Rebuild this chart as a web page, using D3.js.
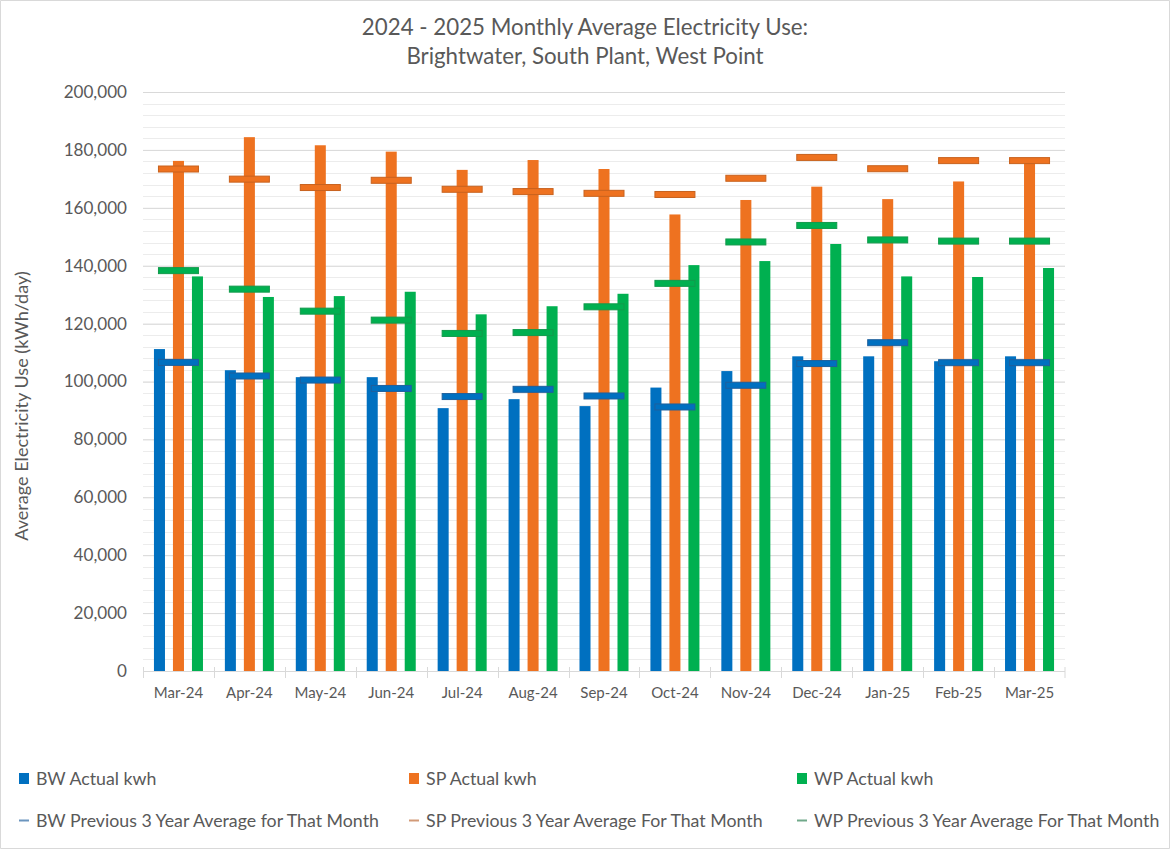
<!DOCTYPE html>
<html>
<head>
<meta charset="utf-8">
<script src="https://cdn.jsdelivr.net/npm/d3@7"></script>
<style>
  body { margin: 0; background: #fff; }
  svg { display: block; }
  svg text { font-family: Lato, "Open Sans", sans-serif; fill: #595959; }
</style>
</head>
<body>
<div id="chart"></div>
<script>
// months on the x axis
const months = ['Mar-24', 'Apr-24', 'May-24', 'Jun-24', 'Jul-24', 'Aug-24', 'Sep-24',
  'Oct-24', 'Nov-24', 'Dec-24', 'Jan-25', 'Feb-25', 'Mar-25'];

// actual kwh per day (bars)
const bwActual = [111200, 103900, 101500, 101500, 90800, 93900, 91500, 97900, 103600, 108700, 108700, 107000, 108700];
const spActual = [176200, 184400, 181600, 179400, 173100, 176500, 173400, 157700, 162700, 167300, 163000, 169100, 175500];
const wpActual = [136300, 129200, 129500, 131000, 123200, 126000, 130300, 140200, 141600, 147500, 136300, 136100, 139200];

// previous 3 year average for that month (dash markers)
const bwAvg = [106600, 101900, 100500, 97600, 94800, 97300, 95000, 91200, 98700, 106200, 113400, 106500, 106500];
const spAvg = [173400, 169900, 167000, 169500, 166400, 165600, 165000, 164600, 170200, 177400, 173500, 176300, 176300];
const wpAvg = [138300, 131900, 124300, 121200, 116600, 116900, 125800, 133900, 148200, 153900, 148900, 148500, 148500];

const yTicks = [0, 20000, 40000, 60000, 80000, 100000, 120000, 140000, 160000, 180000, 200000];

const titleLines = ['2024 - 2025 Monthly Average Electricity Use:', 'Brightwater, South Plant, West Point'];
const yAxisLabel = 'Average Electricity Use (kWh/day)';

const series = [
  { key: 'BW', actual: bwActual, avg: bwAvg, color: '#0070C0', edge: '#1f5f9c', legendLine: '#6b95be',
    name: 'BW Actual kwh', avgName: 'BW Previous 3 Year Average for That Month' },
  { key: 'SP', actual: spActual, avg: spAvg, color: '#EE7220', edge: '#c8621e', legendLine: '#d29a78',
    name: 'SP Actual kwh', avgName: 'SP Previous 3 Year Average For That Month' },
  { key: 'WP', actual: wpActual, avg: wpAvg, color: '#00B050', edge: '#129a4c', legendLine: '#70a98a',
    name: 'WP Actual kwh', avgName: 'WP Previous 3 Year Average For That Month' }
];

const width = 1170, height = 849;
const margin = { top: 92, right: 105, bottom: 178, left: 143 };
const innerWidth = width - margin.left - margin.right;
const innerHeight = height - margin.top - margin.bottom;

const svg = d3.select('#chart').append('svg')
  .attr('width', width)
  .attr('height', height);

// outer frame (just the outline)
svg.append('path')
  .attr('d', `M0.5,0.5H${width - 0.5}V${height - 0.5}H0.5Z`)
  .attr('fill', 'none')
  .attr('stroke', '#d9d9d9');

const titleG = svg.append('g').attr('class', 'title');
titleG.selectAll('text').data(titleLines)
  .enter().append('text')
  .attr('x', width / 2)
  .attr('y', (d, i) => 35 + i * 29)
  .attr('text-anchor', 'middle')
  .attr('font-size', 22.3)
  .text(d => d);

const g = svg.append('g')
  .attr('transform', `translate(${margin.left},${margin.top})`);

const x0 = d3.scaleBand()
  .domain(months)
  .range([0, innerWidth]);

const groupWidth = 57;
const x1 = d3.scaleBand()
  .domain(series.map(s => s.key))
  .range([x0.bandwidth() / 2 - groupWidth / 2, x0.bandwidth() / 2 + groupWidth / 2])
  .paddingInner(0.42)
  .paddingOuter(0.21);

const yScale = d3.scaleLinear()
  .domain([0, 200000])
  .range([innerHeight, 0]);

// minor gridlines every 4,000
g.append('g').attr('class', 'minor-grid')
  .selectAll('line').data(d3.range(0, 200001, 4000))
  .enter().append('line')
  .attr('x1', 0).attr('x2', innerWidth)
  .attr('y1', d => Math.round(yScale(d)) + 0.5)
  .attr('y2', d => Math.round(yScale(d)) + 0.5)
  .attr('stroke', '#ececec');

const yAxis = d3.axisLeft(yScale)
  .tickValues(yTicks)
  .tickSize(-innerWidth)
  .tickPadding(16)
  .tickFormat(d3.format(','));

const yAxisG = g.append('g').call(yAxis)
  .attr('font-size', 17.1);
yAxisG.select('.domain').remove();
yAxisG.selectAll('line').attr('stroke', '#d9d9d9');
yAxisG.selectAll('text').attr('fill', '#595959');

svg.append('text')
  .attr('transform', 'translate(28,406) rotate(-90)')
  .attr('text-anchor', 'middle')
  .attr('font-size', 18.1)
  .text(yAxisLabel);

// x axis: line, boundary ticks, month labels
const xAxisG = g.append('g').attr('transform', `translate(0,${innerHeight})`);
xAxisG.append('line')
  .attr('x1', 0).attr('x2', innerWidth)
  .attr('y1', 0.5).attr('y2', 0.5)
  .attr('stroke', '#d9d9d9');
xAxisG.selectAll('.tick-mark').data(months.concat(['end']))
  .enter().append('line')
  .attr('class', 'tick-mark')
  .attr('x1', d => d === 'end' ? innerWidth : Math.round(x0(d)) + 0.5)
  .attr('x2', d => d === 'end' ? innerWidth : Math.round(x0(d)) + 0.5)
  .attr('y1', -4).attr('y2', 7)
  .attr('stroke', '#d9d9d9');
xAxisG.selectAll('.month').data(months)
  .enter().append('text')
  .attr('class', 'month')
  .attr('x', d => x0(d) + x0.bandwidth() / 2)
  .attr('y', 27)
  .attr('text-anchor', 'middle')
  .attr('font-size', 15)
  .text(d => d);

// bars
const bars = g.append('g').attr('class', 'bars');
series.forEach(s => {
  bars.append('g').selectAll('rect').data(s.actual)
    .enter().append('rect')
    .attr('x', (d, i) => x0(months[i]) + x1(s.key))
    .attr('y', d => yScale(d))
    .attr('width', x1.bandwidth())
    .attr('height', d => innerHeight - yScale(d))
    .attr('fill', s.color);
});

// 3-year average dash markers, drawn on top of the bars
const markW = 40, markH = 6;
const marks = g.append('g').attr('class', 'avg-marks');
series.forEach(s => {
  marks.append('g').selectAll('rect').data(s.avg)
    .enter().append('rect')
    .attr('x', (d, i) => x0(months[i]) + x0.bandwidth() / 2 - markW / 2)
    .attr('y', d => yScale(d) - markH / 2)
    .attr('width', markW)
    .attr('height', markH)
    .attr('fill', s.color)
    .attr('stroke', s.edge)
    .attr('stroke-width', 1);
});

// legend
const legendX = [19, 409, 797];
const legend = svg.append('g').attr('class', 'legend');
series.forEach((s, i) => {
  const lg = legend.append('g').attr('transform', `translate(${legendX[i]},0)`);
  lg.append('rect')
    .attr('x', 0).attr('y', 773)
    .attr('width', 10).attr('height', 11)
    .attr('fill', s.color);
  lg.append('text')
    .attr('x', 17).attr('y', 785)
    .attr('font-size', 17.75)
    .text(s.name);
  lg.append('line')
    .attr('x1', 0).attr('x2', 10)
    .attr('y1', 820.5).attr('y2', 820.5)
    .attr('stroke', s.legendLine)
    .attr('stroke-width', 2);
  lg.append('text')
    .attr('x', 17).attr('y', 827)
    .attr('font-size', 17.75)
    .text(s.avgName);
});
</script>
</body>
</html>
